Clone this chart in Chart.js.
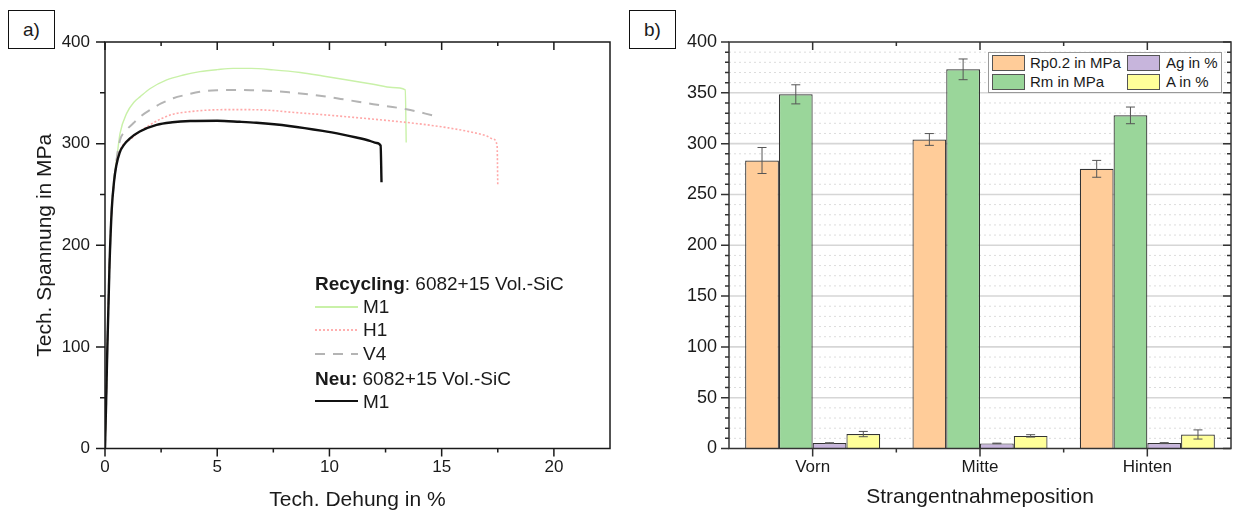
<!DOCTYPE html>
<html>
<head>
<meta charset="utf-8">
<script src="https://cdn.jsdelivr.net/npm/chart.js@4.4.1/dist/chart.umd.min.js"></script>
<style>
  body { margin: 0; width: 1235px; height: 513px; background: #fff; position: relative; overflow: hidden;
         font-family: "Liberation Sans", Arial, sans-serif; color: #1a1a1a; }
  canvas { position: absolute; top: 0; }
  #chart-a { left: 0; }
  #chart-b { left: 620px; }
  .tag { position: absolute; top: 10px; width: 45px; height: 37px; border: 1.5px solid #111; background: #fff;
         font-size: 19px; line-height: 37px; text-align: center; }
  .leg-a { position: absolute; left: 315px; font-size: 19px; line-height: 23px; height: 23px; white-space: nowrap; }
  .leg-a .smp { position: absolute; left: 0; top: 11px; width: 43px; }
  .leg-a .txt { position: absolute; left: 48px; top: 0; }
  .leg-b { position: absolute; left: 988px; top: 52px; width: 232px; height: 39px; border: 1px solid #999; background: #fff; }
  .leg-b .sw { position: absolute; width: 31px; height: 14px; border: 1px solid #555; }
  .leg-b .lt { position: absolute; font-size: 15px; line-height: 18px; white-space: nowrap; }
</style>
</head>
<body>
<canvas id="chart-a" width="620" height="513"></canvas>
<canvas id="chart-b" width="615" height="513"></canvas>

<div class="tag" style="left:8px">a)</div>
<div class="tag" style="left:629px">b)</div>

<!-- Legende Diagramm a -->
<div class="leg-a" style="top:272px"><b>Recycling</b>: 6082+15 Vol.-SiC</div>
<div class="leg-a" style="top:295px;width:120px"><div class="smp" style="height:1.5px;background:#c9f1a8"></div><span class="txt">M1</span></div>
<div class="leg-a" style="top:318px;width:120px"><div class="smp" style="height:2px;background:repeating-linear-gradient(to right,#ffb0b0 0 2px,transparent 2px 4px)"></div><span class="txt">H1</span></div>
<div class="leg-a" style="top:342px;width:120px"><div class="smp" style="height:2px;background:repeating-linear-gradient(to right,#b4b4b4 0 10px,transparent 10px 18px)"></div><span class="txt">V4</span></div>
<div class="leg-a" style="top:367px"><b>Neu:</b> 6082+15 Vol.-SiC</div>
<div class="leg-a" style="top:390px;width:120px"><div class="smp" style="height:2.4px;top:10px;background:#111"></div><span class="txt">M1</span></div>

<!-- Legende Diagramm b -->
<div class="leg-b">
  <div class="sw" style="left:3px;top:2px;background:#ffcc99"></div><div class="lt" style="left:41px;top:1px">Rp0.2 in MPa</div>
  <div class="sw" style="left:3px;top:21px;background:#9ad69a"></div><div class="lt" style="left:41px;top:20px">Rm in MPa</div>
  <div class="sw" style="left:138px;top:2px;background:#c7b5dc"></div><div class="lt" style="left:177px;top:1px">Ag in %</div>
  <div class="sw" style="left:138px;top:21px;background:#ffff99"></div><div class="lt" style="left:177px;top:20px">A in %</div>
</div>

<script>
// Spannung-Dehnung, Neu M1
const strainNeuM1 = [0, 0.05, 0.1, 0.2, 0.3, 0.4, 0.5, 0.65, 0.85, 1.1, 1.55, 2.3, 3.0, 3.8, 5.0, 6.0, 6.75, 8.2, 9.7, 10.6, 11.2, 11.8, 12.1, 12.28, 12.32];
const stressNeuM1 = [0, 45, 95, 180, 235, 262, 278, 291, 299, 305, 312, 318.5, 321, 322.2, 322.5, 321.5, 320.5, 317.4, 312.5, 308.8, 306, 302.8, 300.6, 298, 262];
// Recycling M1
const strainRecM1 = [0, 0.05, 0.1, 0.2, 0.3, 0.4, 0.52, 0.67, 0.97, 1.3, 1.56, 2.0, 2.75, 3.5, 4.23, 5.0, 5.71, 6.5, 7.5, 8.7, 9.7, 10.8, 11.95, 12.8, 13.38, 13.42];
const stressRecM1 = [0, 45, 95, 180, 235, 265, 285, 310, 330, 341, 346, 354, 362.7, 367.5, 370.8, 372.8, 374, 374, 372.6, 370, 366.6, 362.6, 358.4, 355.3, 353, 301];
// Recycling H1
const strainRecH1 = [0, 0.05, 0.1, 0.2, 0.3, 0.4, 0.5, 0.65, 0.85, 1.11, 1.5, 2.0, 2.5, 3.04, 3.8, 4.6, 5.71, 7.2, 8.24, 9.7, 11.2, 12.7, 14.17, 15.3, 16.4, 17.0, 17.3, 17.47, 17.5];
const stressRecH1 = [0, 45, 95, 180, 235, 262, 279, 292, 300, 304, 311, 318.4, 324.5, 329, 331.5, 333, 333.5, 333, 331, 328.5, 325.6, 322.5, 319, 315.5, 311, 307.5, 304.4, 298, 258.5];
// Recycling V4
const strainRecV4 = [0, 0.05, 0.1, 0.2, 0.3, 0.4, 0.5, 0.67, 0.9, 1.26, 1.6, 2.0, 2.5, 3.04, 3.6, 4.23, 5.0, 5.71, 6.5, 7.2, 8.2, 9.27, 10.5, 11.95, 13.43, 14.7];
const stressRecV4 = [0, 45, 95, 180, 235, 262, 282, 303.6, 312, 320, 327, 333, 339.5, 344.7, 348, 351, 352.5, 352.8, 352.6, 352, 350.5, 348, 344, 338.8, 333.8, 327.3];

// Kennwerte je Strangentnahmeposition
const positions = ['Vorn', 'Mitte', 'Hinten'];
const rp02 = [283.4, 304.1, 275.2];
const rp02Err = [12.8, 5.8, 8.3];
const rm = [348.5, 373.1, 327.8];
const rmErr = [9.4, 10.2, 8.2];
const ag = [5.3, 5.0, 5.3];
const agErr = [0.4, 0.3, 0.5];
const aPct = [14.2, 12.4, 13.8];
const aErr = [2.6, 1.2, 4.5];

const FONT = '"Liberation Sans", Arial, sans-serif';
const TXT = '#1a1a1a';

function pts(xs, ys) {
    return xs.map((x, i) => ({ x: x, y: ys[i] }));
}

function curve(data, color, width, dash) {
    return {
        data: data, showLine: true, borderColor: color, borderWidth: width, borderDash: dash || [],
        pointRadius: 0, cubicInterpolationMode: 'monotone', fill: false
    };
}

// Rahmen mit Haupt- und Nebenstrichen (Diagramm a)
const frameA = {
    id: 'frameA',
    afterDatasetsDraw(chart) {
        const { ctx, chartArea: a, scales: { x, y } } = chart;
        ctx.save();
        ctx.strokeStyle = '#1a1a1a';
        ctx.lineWidth = 1.5;
        ctx.strokeRect(a.left, a.top, a.right - a.left, a.bottom - a.top);
        ctx.beginPath();
        for (let v = 0; v < 22.5; v += 2.5) {
            const px = x.getPixelForValue(v);
            const len = v % 5 === 0 ? 8 : 4;
            ctx.moveTo(px, a.bottom); ctx.lineTo(px, a.bottom + len);
            ctx.moveTo(px, a.top); ctx.lineTo(px, a.top + len);
        }
        for (let v = 0; v <= 400; v += 50) {
            const py = y.getPixelForValue(v);
            const len = v % 100 === 0 ? 9 : 5;
            ctx.moveTo(a.left - len, py); ctx.lineTo(a.left, py);
        }
        ctx.stroke();
        ctx.restore();
    }
};

new Chart(document.getElementById('chart-a').getContext('2d'), {
    type: 'scatter',
    data: {
        datasets: [
            curve(pts(strainNeuM1, stressNeuM1), '#111111', 2.4),
            curve(pts(strainRecH1, stressRecH1), '#ffa8a8', 1.6, [2, 2]),
            curve(pts(strainRecV4, stressRecV4), '#b4b4b4', 2, [10, 8]),
            curve(pts(strainRecM1, stressRecM1), '#c9f1a8', 1.4)
        ]
    },
    options: {
        responsive: false,
        animation: false,
        layout: { padding: { left: 0, top: 42, right: 10, bottom: 0 } },
        plugins: { legend: { display: false }, tooltip: { enabled: false } },
        scales: {
            x: {
                type: 'linear', min: 0, max: 22.5,
                grid: { display: false, drawTicks: false }, border: { display: false },
                ticks: { stepSize: 5, includeBounds: false, padding: 9, color: TXT, font: { family: FONT, size: 17 },
                         callback: v => (v % 5 === 0 ? v : '') },
                title: { display: true, text: 'Tech. Dehung in %', color: TXT, font: { family: FONT, size: 21 }, padding: { bottom: 0 } },
                afterFit: s => { s.height = 64.5; }
            },
            y: {
                min: 0, max: 400,
                grid: { display: false, drawTicks: false }, border: { display: false },
                ticks: { stepSize: 100, padding: 15, color: TXT, font: { family: FONT, size: 17 } },
                title: { display: true, text: 'Tech. Spannung in MPa', color: TXT, font: { family: FONT, size: 21 }, padding: { top: 33 } },
                afterFit: s => { s.width = 105; }
            }
        }
    },
    plugins: [frameA]
});

// Hilfslinien hinter den Balken
const gridB = {
    id: 'gridB',
    beforeDatasetsDraw(chart) {
        const { ctx, chartArea: a, scales: { y } } = chart;
        ctx.save();
        for (let v = 10; v < 400; v += 10) {
            const py = y.getPixelForValue(v);
            ctx.beginPath();
            if (v % 50 === 0) {
                ctx.strokeStyle = '#d6d6d6'; ctx.lineWidth = 1.6; ctx.setLineDash([]);
            } else {
                ctx.strokeStyle = '#dcdcdc'; ctx.lineWidth = 1; ctx.setLineDash([2, 3]);
            }
            ctx.moveTo(a.left, py); ctx.lineTo(a.right, py);
            ctx.stroke();
        }
        ctx.restore();
    }
};

// Fehlerbalken und Rahmen (Diagramm b)
const errorsB = [rp02Err, rmErr, agErr, aErr];
const errorBarsB = {
    id: 'errorBarsB',
    afterDatasetsDraw(chart) {
        const { ctx, chartArea: a, scales: { x, y } } = chart;
        ctx.save();
        ctx.strokeStyle = '#555';
        ctx.lineWidth = 1;
        chart.data.datasets.forEach((ds, d) => {
            chart.getDatasetMeta(d).data.forEach((bar, i) => {
                const v = ds.data[i], e = errorsB[d][i];
                const hi = y.getPixelForValue(v + e), lo = y.getPixelForValue(v - e);
                ctx.beginPath();
                ctx.moveTo(bar.x, hi); ctx.lineTo(bar.x, lo);
                ctx.moveTo(bar.x - 4.5, hi); ctx.lineTo(bar.x + 4.5, hi);
                ctx.moveTo(bar.x - 4.5, lo); ctx.lineTo(bar.x + 4.5, lo);
                ctx.stroke();
            });
        });

        ctx.strokeStyle = '#333';
        ctx.lineWidth = 1.5;
        ctx.strokeRect(a.left, a.top, a.right - a.left, a.bottom - a.top);
        ctx.beginPath();
        const n = positions.length;
        const step = (a.right - a.left) / n;
        for (let i = 0; i < n; i++) {
            const px = x.getPixelForValue(i);
            ctx.moveTo(px, a.bottom); ctx.lineTo(px, a.bottom + 8);
            ctx.moveTo(px, a.top); ctx.lineTo(px, a.top + 8);
            if (i > 0) {
                const bx = px - step / 2;
                ctx.moveTo(bx, a.bottom); ctx.lineTo(bx, a.bottom + 4);
                ctx.moveTo(bx, a.top); ctx.lineTo(bx, a.top + 4);
            }
        }
        for (let v = 0; v <= 400; v += 10) {
            const py = y.getPixelForValue(v);
            const len = v % 50 === 0 ? 8 : 4;
            ctx.moveTo(a.left - len, py); ctx.lineTo(a.left, py);
            ctx.moveTo(a.right - len, py); ctx.lineTo(a.right, py);
        }
        ctx.stroke();
        ctx.restore();
    }
};

function bars(data, color) {
    return { data: data, backgroundColor: color, borderColor: '#333', borderWidth: 1.2,
             categoryPercentage: 0.807, barPercentage: 1.0 };
}

new Chart(document.getElementById('chart-b').getContext('2d'), {
    type: 'bar',
    data: {
        labels: positions,
        datasets: [
            bars(rp02, '#ffcc99'),
            bars(rm, '#9ad69a'),
            bars(ag, '#c7b5dc'),
            bars(aPct, '#ffff99')
        ]
    },
    options: {
        responsive: false,
        animation: false,
        layout: { padding: { left: 0, top: 42, right: 4, bottom: 0 } },
        plugins: { legend: { display: false }, tooltip: { enabled: false } },
        scales: {
            x: {
                grid: { display: false, drawTicks: false }, border: { display: false },
                ticks: { padding: 9, color: TXT, font: { family: FONT, size: 17 } },
                title: { display: true, text: 'Strangentnahmeposition', color: TXT, font: { family: FONT, size: 21 }, padding: { bottom: 3 } },
                afterFit: s => { s.height = 64.5; }
            },
            y: {
                min: 0, max: 400,
                grid: { display: false, drawTicks: false }, border: { display: false },
                ticks: { stepSize: 50, padding: 12, color: TXT, font: { family: FONT, size: 18 } },
                afterFit: s => { s.width = 109; }
            }
        }
    },
    plugins: [gridB, errorBarsB]
});
</script>
</body>
</html>
